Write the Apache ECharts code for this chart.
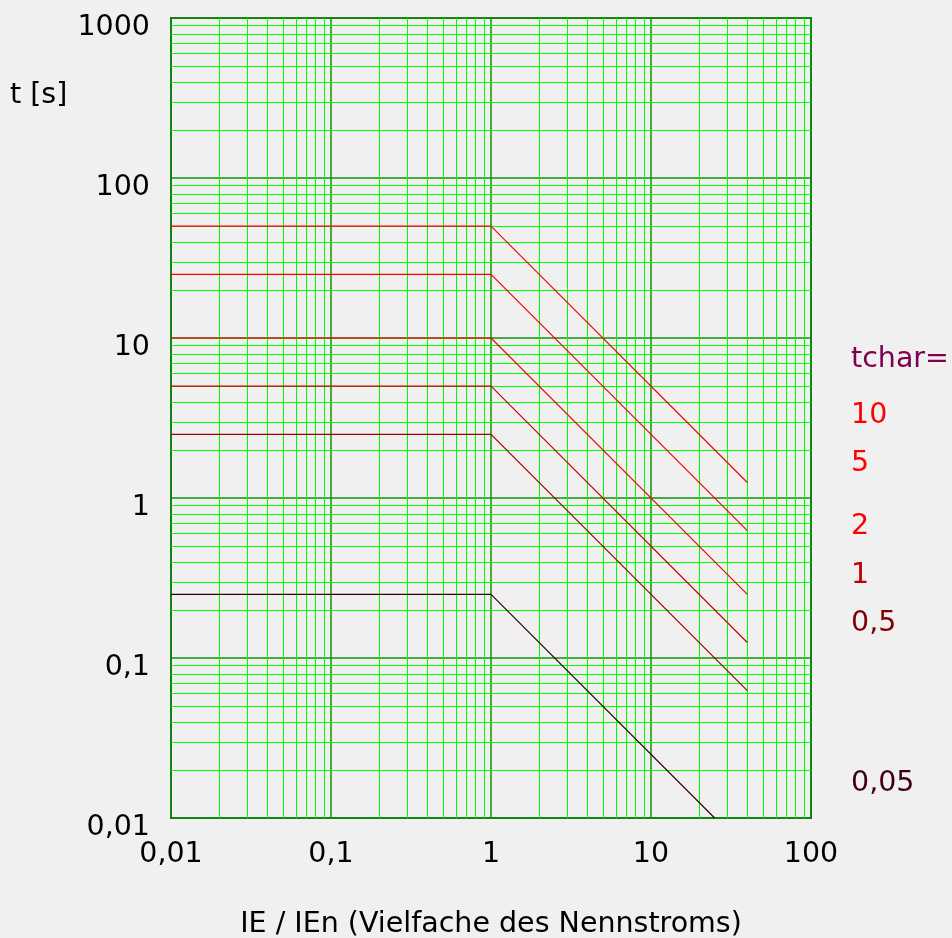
<!DOCTYPE html>
<html>
<head>
<meta charset="utf-8">
<script src="https://cdn.jsdelivr.net/npm/echarts@6/dist/echarts.min.js"></script>
<style>
  html, body { margin: 0; padding: 0; background: #f0f0f0; overflow: hidden; }
  #chart { width: 952px; height: 938px; }
</style>
</head>
<body>
<div id="chart"></div>
<script>
// tick labels (German decimal comma), one per decade
const xTickLabels = ['0,01', '0,1', '1', '10', '100'];
const yTickLabels = ['0,01', '0,1', '1', '10', '100', '1000'];

// characteristic curves
const tcharNames = ['10', '5', '2', '1', '0,5', '0,05'];
const flatLevel = [50, 25, 10, 5, 2.5, 0.25];     // t for IE/IEn <= 1
const kneeX = [1, 1, 1, 1, 1, 1];
const endX = [40, 40, 40, 40, 40, 25];
const endY = [1.25, 0.625, 0.25, 0.125, 0.0625, 0.01];
const curveColors = ['#ff0000', '#ff0000', '#ff0000', '#d00000', '#a00000', '#300000'];
const labelColors = ['#ff0000', '#ff0000', '#ff0000', '#c00000', '#800000', '#400010'];
const labelY = [413, 461, 524, 573, 621, 781];

// minor grid values 2..9 in each decade
let minorX = [], minorY = [];
for (let e = -2; e <= 2; e++) {
  for (let m = 2; m <= 9; m++) {
    let v = +(m * Math.pow(10, e)).toPrecision(3);
    if (e < 2) minorX.push(v);
    minorY.push(v);
  }
}

const FONT = 'DejaVu Sans';
const FS = 28.5;

let myChart = echarts.init(document.getElementById('chart'));

const decadeLabel = (list, lo) => (v) => {
  let i = Math.round(Math.log10(v)) - lo;
  return list[i] || '';
};

// vertical / horizontal grid line through a value
const gridLine = (vertical) => (params, api) => {
  let cs = params.coordSys;
  let p = vertical ? api.coord([api.value(0), 1]) : api.coord([1, api.value(0)]);
  let shape = vertical
    ? { x1: Math.round(p[0]) + 0.5, y1: cs.y, x2: Math.round(p[0]) + 0.5, y2: cs.y + cs.height }
    : { x1: cs.x, y1: Math.round(p[1]) + 0.5, x2: cs.x + cs.width, y2: Math.round(p[1]) + 0.5 };
  return { type: 'line', shape: shape, style: { stroke: '#00ff00', lineWidth: 1 } };
};

let series = [
  { type: 'custom', z: 1, silent: true, renderItem: gridLine(true), data: minorX.map(v => [v]), encode: { x: 0 } },
  { type: 'custom', z: 1, silent: true, renderItem: gridLine(false), data: minorY.map(v => [v]), encode: { y: 0 } }
];

tcharNames.forEach((name, i) => {
  series.push({
    name: name,
    type: 'line',
    z: 10,
    symbol: 'none',
    silent: true,
    lineStyle: { color: curveColors[i], width: 1.2 },
    data: [[0.01, flatLevel[i]], [kneeX[i], flatLevel[i]], [endX[i], endY[i]]]
  });
});

let graphics = [
  { type: 'text', left: 10, top: 81, style: { text: 't [s]', font: FS + 'px ' + FONT, fill: '#000' } },
  { type: 'text', left: 851, top: 345, style: { text: 'tchar=', font: FS + 'px ' + FONT, fill: '#800050' } }
];
tcharNames.forEach((name, i) => {
  graphics.push({
    type: 'text', left: 851, top: labelY[i] - 12,
    style: { text: name, font: FS + 'px ' + FONT, fill: labelColors[i] }
  });
});

myChart.setOption({
  backgroundColor: '#f0f0f0',
  animation: false,
  textStyle: { fontFamily: FONT },
  grid: {
    left: 171, top: 18, width: 640, height: 800,
    outerBoundsMode: 'none',
    containLabel: false,
    show: true, borderColor: '#1f5a1f', borderWidth: 2,
    backgroundColor: 'transparent'
  },
  xAxis: {
    type: 'log',
    logBase: 10,
    min: 0.01,
    max: 100,
    name: 'IE / IEn (Vielfache des Nennstroms)',
    nameLocation: 'middle',
    nameGap: 92,
    nameTextStyle: { fontSize: FS, color: '#000', fontFamily: FONT },
    axisLine: { show: false },
    axisTick: { show: false },
    axisLabel: {
      fontSize: FS, color: '#000', margin: 22,
      showMinLabel: true, showMaxLabel: true,
      formatter: decadeLabel(xTickLabels, -2)
    },
    splitLine: { show: true, lineStyle: { color: '#109010', width: 1.5 } }
  },
  yAxis: {
    type: 'log',
    logBase: 10,
    min: 0.01,
    max: 1000,
    axisLine: { show: false },
    axisTick: { show: false },
    axisLabel: {
      fontSize: FS, color: '#000', margin: 21,
      verticalAlign: 'top',
      lineHeight: 19,
      showMinLabel: true, showMaxLabel: true,
      formatter: decadeLabel(yTickLabels, -2)
    },
    splitLine: { show: true, lineStyle: { color: '#109010', width: 1.5 } }
  },
  graphic: graphics,
  series: series
});
</script>
</body>
</html>
